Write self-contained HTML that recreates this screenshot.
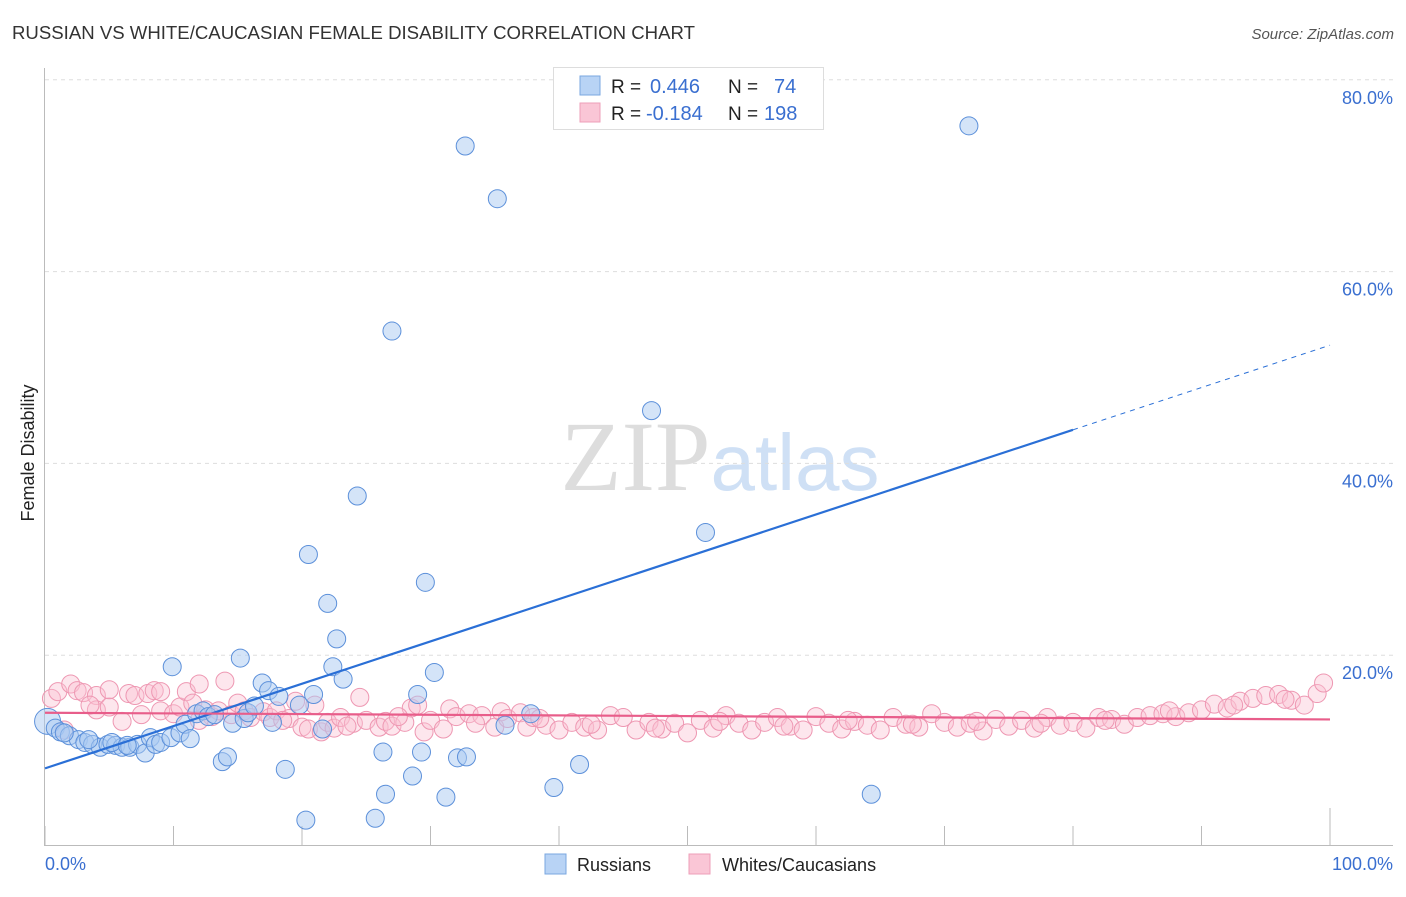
<!DOCTYPE html>
<html><head><meta charset="utf-8"><style>
body{margin:0;background:#fff;font-family:"Liberation Sans",sans-serif;}
svg text{font-family:"Liberation Sans",sans-serif;}
</style></head><body>
<svg id="chart" width="1406" height="892" xmlns="http://www.w3.org/2000/svg">
<text x="12" y="39" font-size="18.6" fill="#333">RUSSIAN VS WHITE/CAUCASIAN FEMALE DISABILITY CORRELATION CHART</text>
<text x="1394" y="39" font-size="15" fill="#555" text-anchor="end" font-style="italic">Source: ZipAtlas.com</text>
<text x="720" y="490" font-size="100" text-anchor="middle"><tspan fill="#ddd" font-family="Liberation Serif">ZIP</tspan><tspan fill="#cfe0f5" font-size="80">atlas</tspan></text>
<g id="grid"></g>
<g id="axes"></g>
<g id="pinkpts"></g>
<g id="bluepts"></g>
<g id="lines"></g>
<text transform="translate(34,453) rotate(-90)" font-size="18" fill="#222" text-anchor="middle">Female Disability</text>
<g>
<rect x="553.5" y="67.5" width="270" height="62" fill="#fff" stroke="#ddd"/>
<rect x="580" y="76" width="20" height="19" fill="#b8d3f5" stroke="#7aa7e0"/>
<rect x="580" y="103" width="20" height="19" fill="#fac6d6" stroke="#ee9fb8"/>
<text x="611" y="93" font-size="19" fill="#222">R =</text>
<text x="650" y="93" font-size="20" fill="#3a6fd0">0.446</text>
<text x="728" y="93" font-size="19" fill="#222">N =</text>
<text x="774" y="93" font-size="20" fill="#3a6fd0">74</text>
<text x="611" y="120" font-size="19" fill="#222">R =</text>
<text x="646" y="120" font-size="20" fill="#3a6fd0">-0.184</text>
<text x="728" y="120" font-size="19" fill="#222">N =</text>
<text x="764" y="120" font-size="20" fill="#3a6fd0">198</text>
</g>
<g>
<rect x="545" y="854" width="21" height="20" fill="#b8d3f5" stroke="#7aa7e0"/>
<text x="577" y="871" font-size="18" fill="#222">Russians</text>
<rect x="689" y="854" width="21" height="20" fill="#fac6d6" stroke="#ee9fb8"/>
<text x="722" y="871" font-size="18" fill="#222">Whites/Caucasians</text>
</g>
</svg>
<script>
const xTickVals=[0,10,20,30,40,50,60,70,80,90,100];
const yTickVals=[20,40,60,80];
const russianX=[0.2,0.8,1.2,1.9,2.6,3.1,3.7,4.3,4.9,5.5,6.0,6.6,7.2,7.8,8.2,8.6,9.0,9.8,10.5,9.9,10.9,11.3,11.8,12.3,12.7,13.2,13.8,14.2,14.6,15.2,15.5,15.8,16.3,16.9,17.4,17.7,18.2,18.7,19.8,20.3,20.5,20.9,21.6,22.0,22.4,22.7,23.2,24.3,26.3,26.5,27.0,25.7,28.6,29.0,29.3,29.6,30.3,31.2,32.1,32.8,32.7,35.2,35.8,37.8,39.6,41.6,47.2,51.4,64.3,71.9,1.5,3.4,5.2,6.4];
const russianY=[13.1,12.4,12.0,11.6,11.2,10.9,10.7,10.4,10.7,10.6,10.4,10.4,10.7,9.8,11.4,10.7,10.9,11.4,11.9,18.8,12.8,11.3,13.9,14.2,13.6,13.8,8.9,9.4,12.9,19.7,13.4,14.0,14.7,17.1,16.3,13.0,15.7,8.1,14.8,2.8,30.5,15.9,12.3,25.4,18.8,21.7,17.5,36.6,9.9,5.5,53.8,3.0,7.4,15.9,9.9,27.6,18.2,5.2,9.3,9.4,73.1,67.6,12.7,13.9,6.2,8.6,45.5,32.8,5.5,75.2,11.9,11.2,10.9,10.6];
const whiteX=[0.5,1,2,2.5,3,4,4,5,5,6,6.5,7,7.5,8,8.5,9,9,10,10.5,11,11.5,12,12.5,13,13.5,14,14.5,15,15.5,16,17,17.5,18,19,19.5,20,20.5,21,21.5,22,22.5,23,24,24.5,25,26,26.5,27,28,28.5,29,29.5,30,31,31.5,32,33,34,35,35.5,36,37,37.5,38,39,40,41,42,43,44,45,46,47,48,49,50,51,52,53,54,55,56,57,58,59,60,61,62,63,64,65,66,67,68,69,70,71,72,73,74,75,76,77,78,79,80,81,82,83,84,85,86,87,88,89,90,91,92,93,94,95,96,97,98,99,99.5,1.5,3.5,12,18.5,23.5,27.5,33.5,38.5,42.5,47.5,52.5,57.5,62.5,67.5,72.5,77.5,82.5,87.5,92.5,96.5];
const whiteY=[15.5,16.2,17,16.3,16.1,15.8,14.3,14.6,16.4,13.1,16,15.8,13.8,16,16.3,16.2,14.2,13.9,14.6,16.2,15,17,14.3,13.6,14.2,17.3,13.8,15,14.2,13.5,14.1,13.5,14.2,13.4,15.2,12.5,12.3,14.8,12,13,12.4,13.5,12.9,15.6,13.2,12.5,13.1,12.6,13,14.5,14.8,12,13.2,12.3,14.4,13.6,13.9,13.7,12.5,14.1,13.4,14,12.5,13.5,12.7,12.2,13,12.5,12.2,13.7,13.5,12.2,13,12.3,12.9,11.9,13.2,12.4,13.7,12.9,12.2,13,13.5,12.6,12.2,13.6,12.9,12.3,13.1,12.7,12.2,13.5,12.8,12.5,13.9,13,12.5,12.9,12.1,13.3,12.6,13.2,12.4,13.5,12.7,13,12.4,13.5,13.3,12.8,13.5,13.7,13.9,13.6,14,14.3,14.9,14.5,15.2,15.5,15.8,15.9,15.3,14.8,16,17.1,12.2,14.8,13.2,13.2,12.6,13.6,12.9,13.4,12.8,12.4,13.1,12.6,13.2,12.8,13.1,12.9,13.2,14.2,14.8,15.4];
const X0=45,X1=1330,Y0=847,YPER=9.59;
const xs=v=>X0+(X1-X0)*v/100;
const ys=v=>Y0-v*YPER;
const NS="http://www.w3.org/2000/svg";
function mk(tag,attrs,parent){const e=document.createElementNS(NS,tag);for(const k in attrs)e.setAttribute(k,attrs[k]);parent.appendChild(e);return e;}
const grid=document.getElementById('grid'),axes=document.getElementById('axes');
yTickVals.forEach(v=>{
 const l=mk('line',{x1:45,x2:1393,y1:ys(v),y2:ys(v),stroke:'#ddd','stroke-dasharray':'4,4'},grid);
 
 
 const t=mk('text',{x:1393,y:ys(v)+24,'font-size':18,fill:'#3a6fd0','text-anchor':'end'},grid);
 t.textContent=v.toFixed(1)+'%';
 
 
});
const ya=mk('line',{x1:44.5,x2:44.5,y1:68,y2:846,stroke:'#bbb'},axes);


const xa=mk('line',{x1:44,x2:1393,y1:845.5,y2:845.5,stroke:'#bbb'},axes);


xTickVals.forEach(v=>{
 const tk=mk('line',{x1:xs(v),x2:xs(v),y1:v===100?808:826,y2:846,stroke:'#bbb'},axes);
 
 
});
[[0,'0.0%','start',45],[100,'100.0%','end',1393]].forEach(a=>{
 const t=mk('text',{x:a[3],y:870,'font-size':18,fill:'#3a6fd0','text-anchor':a[2]},axes);
 t.textContent=a[1];
 
 
});
const pg=document.getElementById('pinkpts');
whiteX.forEach((x,i)=>{
 const c=mk('circle',{cx:xs(x),cy:ys(whiteY[i]),r:9,fill:'#f9c1d1','fill-opacity':0.4,stroke:'#ee97b2','stroke-width':1},pg);
 
 
});
const bg=document.getElementById('bluepts');
russianX.forEach((x,i)=>{
 const c=mk('circle',{cx:xs(x),cy:ys(russianY[i]),r:i===0?13:9,fill:'#a9c9f2','fill-opacity':0.5,stroke:'#5c90da','stroke-width':1},bg);
 
 
});
const lg=document.getElementById('lines');
const bInt=8.2,bSlope=(43.5-8.2)/80;
const bl=mk('line',{x1:xs(0),y1:ys(bInt),x2:xs(80),y2:ys(bInt+bSlope*80),stroke:'#2a6fd6','stroke-width':2.2},lg);


const bd=mk('line',{x1:xs(80),y1:ys(bInt+bSlope*80),x2:xs(100),y2:ys(bInt+bSlope*100),stroke:'#2a6fd6','stroke-width':1,'stroke-dasharray':'5,5'},lg);


const pl=mk('line',{x1:xs(0),y1:ys(14.0),x2:xs(100),y2:ys(13.3),stroke:'#e85d8a','stroke-width':2.2},lg);


</script>
</body></html>
